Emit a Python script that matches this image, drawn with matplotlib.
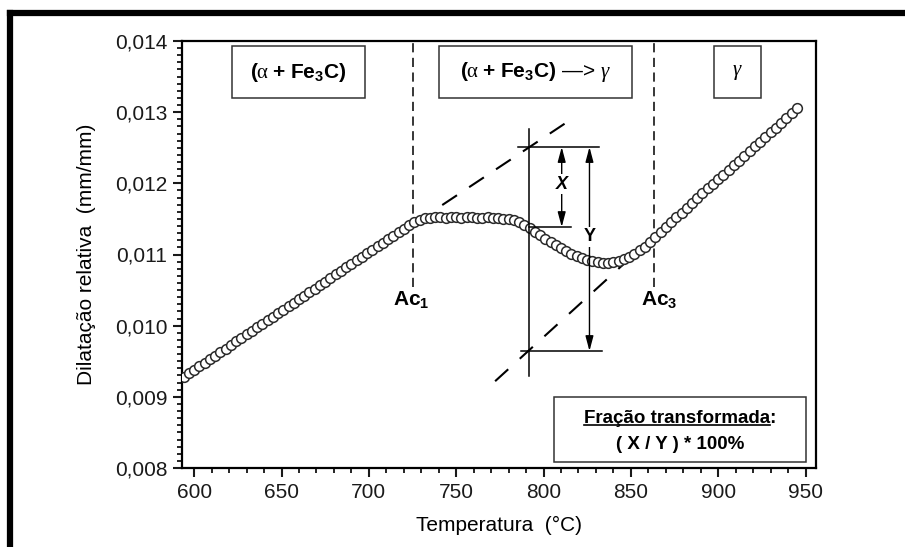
import matplotlib
matplotlib.use('Agg')
import matplotlib.pyplot as plt
from matplotlib.patches import Rectangle
from matplotlib.lines import Line2D
from matplotlib.ticker import MultipleLocator, FuncFormatter

plt.rcParams['font.family'] = ['Liberation Sans', 'DejaVu Sans']
plt.rcParams['mathtext.fontset'] = 'custom'
plt.rcParams['mathtext.rm'] = 'Liberation Serif'
plt.rcParams['mathtext.it'] = 'Liberation Serif:italic'
plt.rcParams['mathtext.bf'] = 'Liberation Sans:bold'

# ---------------- data ----------------
temperature = [594, 597, 600, 603, 606, 609, 612, 615, 618, 621, 624, 627, 630, 633, 636, 639,
               642, 645, 648, 651, 654, 657, 660, 663, 666, 669, 672, 675, 678, 681, 684, 687,
               690, 693, 696, 699, 702, 705, 708, 711, 714, 717, 720, 723, 726, 729, 732, 735,
               738, 741, 744, 747, 750, 753, 756, 759, 762, 765, 768, 771, 774, 777, 780, 783,
               786, 789, 792, 795, 798, 801, 804, 807, 810, 813, 816, 819, 822, 825, 828, 831,
               834, 837, 840, 843, 846, 849, 852, 855, 858, 861, 864, 867, 870, 873, 876, 879,
               882, 885, 888, 891, 894, 897, 900, 903, 906, 909, 912, 915, 918, 921, 924, 927,
               930, 933, 936, 939, 942, 945]
dilatation = [0.009284, 0.009333, 0.009382, 0.009432, 0.009481, 0.009531, 0.009580, 0.009630,
              0.009679, 0.009729, 0.009778, 0.009828, 0.009877, 0.009927, 0.009976, 0.010026,
              0.010075, 0.010125, 0.010174, 0.010224, 0.010273, 0.010323, 0.010372, 0.010422,
              0.010471, 0.010521, 0.010570, 0.010620, 0.010669, 0.010719, 0.010768, 0.010818,
              0.010867, 0.010917, 0.010966, 0.011016, 0.011065, 0.011115, 0.011164, 0.011214,
              0.011263, 0.011313, 0.011362, 0.011412, 0.011455, 0.011490, 0.011510, 0.011518,
              0.011520, 0.011520, 0.011518, 0.011520, 0.011520, 0.011518, 0.011520, 0.011520,
              0.011518, 0.011518, 0.011520, 0.011515, 0.011512, 0.011505, 0.011495, 0.011478,
              0.011452, 0.011418, 0.011372, 0.011322, 0.011272, 0.011222, 0.011174, 0.011130,
              0.011088, 0.011048, 0.011010, 0.010975, 0.010945, 0.010920, 0.010902, 0.010892,
              0.010886, 0.010885, 0.010890, 0.010903, 0.010930, 0.010968, 0.011012, 0.011060,
              0.011110, 0.011170, 0.011240, 0.011310, 0.011380, 0.011450, 0.011520, 0.011590,
              0.011660, 0.011730, 0.011800, 0.011860, 0.011930, 0.011990, 0.012060, 0.012120,
              0.012190, 0.012260, 0.012320, 0.012390, 0.012450, 0.012520, 0.012580, 0.012650,
              0.012720, 0.012780, 0.012850, 0.012920, 0.012990, 0.013060]

x_ticks = [600, 650, 700, 750, 800, 850, 900, 950]
y_ticks = [0.008, 0.009, 0.010, 0.011, 0.012, 0.013, 0.014]

ac1_temp = 725.0
ac3_temp = 863.0
ac_line_bottom = 0.01055

# extrapolated (tangent) lines
alpha_ext_T = [742.0, 812.7]
alpha_ext_v = [0.011695, 0.012848]
gamma_ext_T = [850.3, 770.5]
gamma_ext_v = [0.010965, 0.009180]

# lever-rule construction
meas_T = 791.6
meas_line_v = [0.009293, 0.012763]
v_alpha_at_T = 0.01251
v_curve_at_T = 0.011386
v_gamma_at_T = 0.009644
top_tick_T = [785.3, 832.0]
bot_tick_T = [787.0, 833.2]
x_arrow_T = 810.4
y_arrow_T = 826.3

# ---------------- figure ----------------
W, H = 905, 547
fig = plt.figure(figsize=(W / 100, H / 100), dpi=100)
ax = fig.add_axes([182 / W, 79 / H, 634 / W, 427 / H])

ax.plot(temperature, dilatation, linestyle='none', marker='o', ms=7,
        mfc='white', mec='#2a2a2a', mew=1.1, zorder=3)

# phase boundaries
for t in (ac1_temp, ac3_temp):
    ax.plot([t, t], [ac_line_bottom, 0.014], color='k', lw=1.1,
            linestyle=(0, (6, 3.6)), zorder=2)
ax.text(ac1_temp - 1, 0.01036, r'$\mathbf{Ac_1}$', ha='center', va='center', fontsize=15)
ax.text(ac3_temp + 3, 0.01036, r'$\mathbf{Ac_3}$', ha='center', va='center', fontsize=15)

# tangent lines
ax.plot(alpha_ext_T, alpha_ext_v, color='k', lw=1.5, linestyle=(0, (8.5, 7)), zorder=2)
ax.plot(gamma_ext_T, gamma_ext_v, color='k', lw=1.5, linestyle=(0, (8.5, 7.5)), zorder=2)

# lever construction
lk = dict(color='k', lw=1.1, zorder=4)
ax.plot([meas_T, meas_T], meas_line_v, **lk)
ax.plot(top_tick_T, [v_alpha_at_T] * 2, **lk)
ax.plot(bot_tick_T, [v_gamma_at_T] * 2, **lk)
ax.plot([meas_T, 815.5], [v_curve_at_T] * 2, **lk)
aprops = dict(arrowstyle='<|-|>,head_length=0.75,head_width=0.2', color='k', lw=1.0,
              shrinkA=0, shrinkB=0, mutation_scale=12)
ax.annotate('', xy=(x_arrow_T, v_curve_at_T), xytext=(x_arrow_T, v_alpha_at_T),
            arrowprops=aprops, zorder=4)
ax.annotate('', xy=(y_arrow_T, v_gamma_at_T), xytext=(y_arrow_T, v_alpha_at_T),
            arrowprops=aprops, zorder=4)
ax.text(x_arrow_T, 0.01199, 'X', ha='center', va='center', fontsize=13,
        fontweight='bold', fontstyle='italic', zorder=5,
        bbox=dict(facecolor='white', edgecolor='none', pad=1))
ax.text(y_arrow_T, 0.011246, 'Y', ha='center', va='center', fontsize=13,
        fontweight='bold', zorder=5,
        bbox=dict(facecolor='white', edgecolor='none', pad=1))

# phase boxes (axes fraction)
boxes = [
    ((0.079, 0.8665), 0.210, 0.1215, r'$\mathbf{(}\mathrm{\alpha}\ \mathbf{+\ Fe_3C)}$'),
    ((0.405, 0.8665), 0.305, 0.1215, r'$\mathbf{(}\mathrm{\alpha}\ \mathbf{+\ Fe_3C)}$ —> $\gamma$'),
    ((0.839, 0.8665), 0.074, 0.1215, r'$\gamma$'),
]
for (bx, by), bw, bh, label in boxes:
    ax.add_patch(Rectangle((bx, by), bw, bh, transform=ax.transAxes, facecolor='white',
                           edgecolor='#333333', lw=1.1, zorder=5))
    ax.text(bx + bw / 2, by + bh / 2, label, transform=ax.transAxes, ha='center',
            va='center', fontsize=15, zorder=6)

# formula box
ax.add_patch(Rectangle((0.587, 0.014), 0.397, 0.152, transform=ax.transAxes,
                       facecolor='white', edgecolor='#333333', lw=1.1, zorder=5))
t1 = ax.text(0.785, 0.117, 'Fração transformada:', transform=ax.transAxes, ha='center',
             va='center', fontsize=13.5, fontweight='bold', zorder=6)
ax.text(0.785, 0.056, '( X / Y ) * 100%', transform=ax.transAxes, ha='center',
        va='center', fontsize=13.5, fontweight='bold', zorder=6)

# axes styling
ax.set_xlim(593, 956)
ax.set_ylim(0.008, 0.014)
ax.set_xticks(x_ticks)
ax.set_yticks(y_ticks)
ax.xaxis.set_minor_locator(MultipleLocator(10))
ax.yaxis.set_minor_locator(MultipleLocator(0.0001))
ax.yaxis.set_major_formatter(FuncFormatter(lambda v, p: f'{v:.3f}'.replace('.', ',')))
ax.tick_params(which='major', direction='out', length=6.5, width=1.5, labelsize=15,
               pad=4, colors='#1a1a1a', top=False, right=False)
ax.tick_params(which='minor', direction='out', length=3.5, width=1.2, top=False, right=False)
for s in ax.spines.values():
    s.set_linewidth(1.6)

ax.set_xlabel('Temperatura  (°C)', fontsize=15)
ax.set_ylabel('Dilatação relativa  (mm/mm)', fontsize=15)
ax.xaxis.set_label_coords(0.5, -0.112)
ax.yaxis.set_label_coords(-0.135, 0.5)

# underline for formula heading
fig.canvas.draw()
r = fig.canvas.get_renderer()
bb = t1.get_window_extent(r)
tmp = ax.text(0, 0, 'Fração transformada', fontsize=13.5, fontweight='bold')
wlen = tmp.get_window_extent(r).width
tmp.remove()
uy = bb.y0 + 2
fig.add_artist(Line2D([bb.x0 / W, (bb.x0 + wlen) / W], [uy / H, uy / H],
                      transform=fig.transFigure, color='k', lw=1.2, zorder=7))

# outer frame fragments (top and left)
fy = 1 - 13 / H
fx = 10 / W
fig.add_artist(Line2D([fx, fx], [0, fy], transform=fig.transFigure, color='k', lw=4.5,
                      solid_capstyle='projecting'))
fig.add_artist(Line2D([fx, 1.0], [fy, fy], transform=fig.transFigure, color='k', lw=4.5,
                      solid_capstyle='projecting'))

fig.savefig('out.png', dpi=100)
